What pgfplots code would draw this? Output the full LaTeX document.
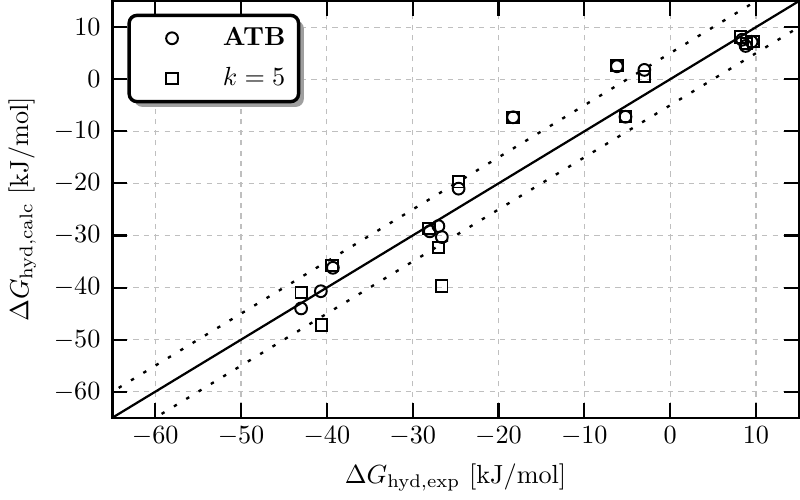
\documentclass[border=0pt]{standalone}
\usepackage{pgfplots}
\pgfplotsset{compat=1.18}
\usetikzlibrary{shadows}
\pgfplotsset{legend image code/.code={\path (-3pt,0pt) (22pt,0pt); \draw[#1] plot coordinates {(10pt,0pt)};}}

\begin{document}
\begin{tikzpicture}
\begin{axis}[
  scale only axis,
  width=262pt, height=159pt,
  xmin=-65, xmax=15, ymin=-65, ymax=15,
  xtick={-60,-50,...,10}, ytick={-60,-50,...,10},
  major tick length=5.5pt,
  axis line style={line width=0.9pt},
  every tick/.style={black, line width=0.8pt},
  yticklabel style={xshift=-1pt},
  grid=major,
  grid style={gray!50, line width=0.45pt, dash pattern=on 2pt off 2pt},
  xlabel={$\Delta G_{\mathrm{hyd,exp}}$ [kJ/mol]},
  ylabel={$\Delta G_{\mathrm{hyd,calc}}$ [kJ/mol]},
  legend cell align=left,
  legend style={
    at={(0.022,0.97)}, anchor=north west,
    draw=black, line width=1.3pt, rounded corners=3pt,
    fill=white,
    drop shadow={shadow xshift=2pt, shadow yshift=-2pt, fill=gray!75, opacity=1},
    inner xsep=3pt, inner ysep=2.5pt,
    row sep=3pt,
    nodes={line width=0.75pt},
    /tikz/every odd column/.append style={column sep=5pt},
  },
]
\addplot[black, line width=0.85pt, forget plot] coordinates {(-70,-70) (20,20)};
\addplot[black, line width=0.9pt, dash pattern=on 1.3pt off 4.2pt, forget plot] coordinates {(-70,-65) (15,20)};
\addplot[black, line width=0.9pt, dash pattern=on 1.3pt off 4.2pt, forget plot] coordinates {(-65,-70) (20,15)};

\addplot[only marks, mark=o, mark size=2.25pt, black, line width=0.75pt] coordinates {
(-43.0,-44.0) (-40.7,-40.7) (-39.3,-36.2) (-28.0,-29.2) (-27.0,-28.2)
(-26.6,-30.3) (-24.65,-21.0) (-18.3,-7.3) (-6.2,2.5) (-5.2,-7.2)
(-3.0,1.8) (8.4,7.6) (8.8,6.4) (9.5,7.2)
};
\addplot[only marks, mark=square, mark size=2.15pt, black, line width=0.75pt] coordinates {
(-43.0,-41.0) (-40.6,-47.2) (-39.4,-35.8) (-28.1,-28.6) (-27.0,-32.3)
(-26.6,-39.7) (-24.7,-19.7) (-18.3,-7.3) (-6.2,2.6) (-5.2,-7.2)
(-3.0,0.6) (8.2,8.1) (8.9,6.9) (9.7,7.2)
};
\legend{\textbf{ATB}, $k=5$}
\end{axis}
\end{tikzpicture}
\end{document}
